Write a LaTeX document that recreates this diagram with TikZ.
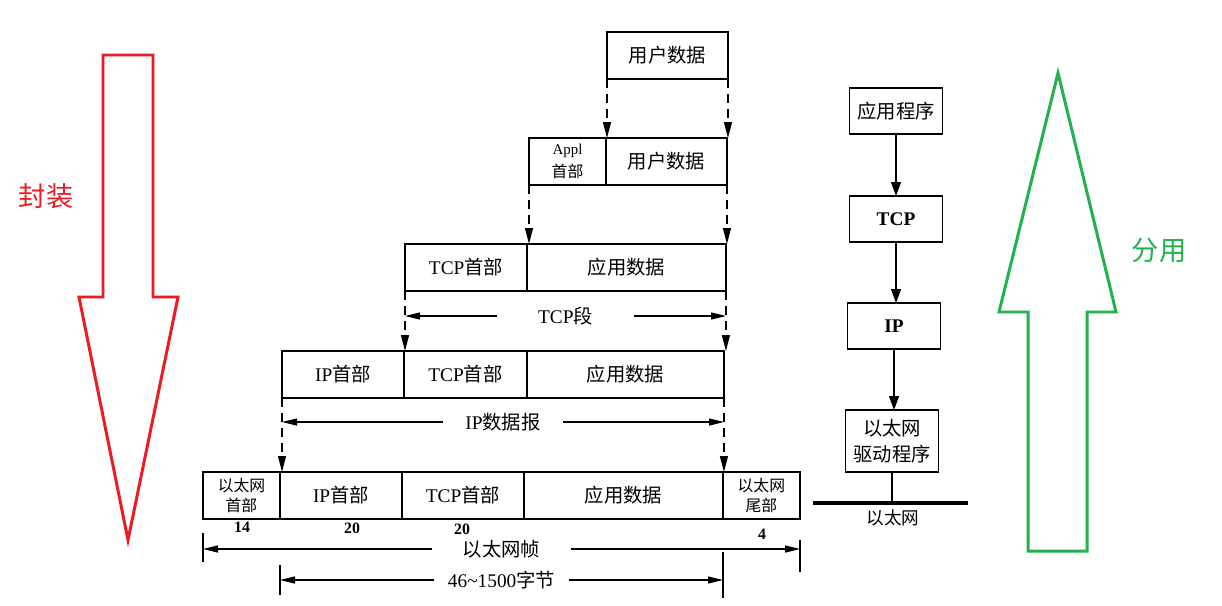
\documentclass[tikz,border=0pt]{standalone}
\usepackage{fontspec}
\setmainfont{Liberation Serif}
\newfontfamily\cjk{Noto Sans CJK SC}
\usetikzlibrary{arrows.meta,positioning}
\definecolor{encred}{RGB}{237,28,36}
\definecolor{demgreen}{RGB}{34,177,76}

\begin{document}
\begin{tikzpicture}[x=0.02cm,y=-0.02cm,
 fld/.style={draw,line width=0.7pt,inner sep=0pt,outer sep=0pt,anchor=north west,
   minimum height=0.94cm,align=center,font=\fontsize{11}{13}\selectfont},
 small/.style={font=\cjk\fontsize{9}{11}\selectfont},
 lay/.style={draw,line width=0.7pt,inner sep=0pt,outer sep=0pt,minimum width=1.86cm,
   minimum height=0.92cm,align=center,font=\fontsize{11}{14.5}\selectfont},
 drop/.style={line width=0.7pt,dash pattern=on 0.18cm off 0.12cm,-{Triangle[length=0.32cm,width=0.16cm]}},
 dim/.style={line width=0.7pt,{Triangle[length=0.3cm,width=0.14cm]}-{Triangle[length=0.3cm,width=0.14cm]}},
 gap/.style={fill=white,inner sep=0pt,minimum height=0.5cm,font=\fontsize{11}{13}\selectfont},
 flow/.style={line width=0.7pt,-{Triangle[length=0.28cm,width=0.2cm]}},
 num/.style={font=\bfseries\fontsize{9}{11}\selectfont}]
 \useasboundingbox (0,0) rectangle (1222,605);

 % encapsulation rows
 \node[fld,minimum width=2.42cm] (r1) at (607,32) {\cjk 用户数据};

 \node[fld,minimum width=1.54cm] (r2h) at (529,138) {\fontsize{8.5}{10}\selectfont Appl\\{\cjk\fontsize{9}{10}\selectfont 首部}};
 \node[fld,minimum width=2.42cm,right=0pt of r2h] (r2d) {\cjk 用户数据};

 \node[fld,minimum width=2.44cm] (r3h) at (405,244) {TCP{\cjk 首部}};
 \node[fld,minimum width=3.98cm,right=0pt of r3h] (r3d) {\cjk 应用数据};

 \node[fld,minimum width=2.44cm] (r4h) at (282,351) {IP{\cjk 首部}};
 \node[fld,minimum width=2.46cm,right=0pt of r4h] (r4t) {TCP{\cjk 首部}};
 \node[fld,minimum width=3.94cm,right=0pt of r4t] (r4d) {\cjk 应用数据};

 \node[fld,small,minimum width=1.54cm] (r5e) at (203,472) {以太网\\首部};
 \node[fld,minimum width=2.44cm,right=0pt of r5e] (r5i) {IP{\cjk 首部}};
 \node[fld,minimum width=2.44cm,right=0pt of r5i] (r5t) {TCP{\cjk 首部}};
 \node[fld,minimum width=3.98cm,right=0pt of r5t] (r5d) {\cjk 应用数据};
 \node[fld,small,minimum width=1.54cm,right=0pt of r5d] (r5f) {以太网\\尾部};

 \draw[drop] (r1.south west) -- (r1.south west |- r2d.north);
 \draw[drop] (r1.south east) -- (r1.south east |- r2d.north);
 \draw[drop] (r2h.south west) -- (r2h.south west |- r3d.north);
 \draw[drop] (r2d.south east) -- (r2d.south east |- r3d.north);
 \draw[drop] (r3h.south west) -- (r3h.south west |- r4t.north);
 \draw[drop] (r3d.south east) -- (r3d.south east |- r4d.north);
 \draw[drop] (r4h.south west) -- (r4h.south west |- r5i.north);
 \draw[drop] (r4d.south east) -- (r4d.south east |- r5d.north);

 % lengths
 \coordinate (tcpL) at (405,316);
 \coordinate (tcpR) at (726,316);
 \coordinate (ipL) at (282,422);
 \coordinate (ipR) at (724,422);
 \coordinate (frL) at (203,549);
 \coordinate (frR) at (800,549);
 \coordinate (pyL) at (280,580);
 \coordinate (pyR) at (723,580);
 \draw[dim] (tcpL) -- (tcpR) node[gap,midway,minimum width=2.74cm] (tcpseg) {TCP{\cjk 段}};
 \draw[dim] (ipL) -- (ipR) node[gap,midway,minimum width=2.4cm] (ipdg) {IP{\cjk 数据报}};
 \draw[dim] (frL) -- (frR) node[gap,midway,minimum width=2.78cm] (frame) {\cjk 以太网帧};
 \draw[dim] (pyL) -- (pyR) node[gap,midway,minimum width=2.72cm] (pay) {46\textasciitilde1500{\cjk 字节}};
 \draw[line width=0.6pt] (203,533) -- (203,562);
 \draw[line width=0.6pt] (800,540) -- (800,572);
 \draw[line width=0.6pt] (280,565) -- (280,595);
 \draw[line width=0.6pt] (723,552) -- (723,598);

 \node[num] (n14) at (242,527) {14};
 \node[num] (n20a) at (352,528) {20};
 \node[num] (n20b) at (462,529) {20};
 \node[num] (n4) at (762,534) {4};

 % protocol stack
 \node[lay] (app) at (896,111) {\cjk 应用程序};
 \node[lay] (tcp) at (896,219) {\textbf{TCP}};
 \node[lay] (ip) at (894,326) {\textbf{IP}};
 \node[lay,minimum height=1.24cm,font=\cjk\fontsize{11}{14.5}\selectfont] (drv) at (892,441) {以太网\\驱动程序};
 \draw[flow] (app) -- (tcp);
 \draw[flow] (tcp.south) -- (tcp.south |- ip.north);
 \draw[flow] (ip.south) -- (ip.south |- drv.north);
 \coordinate (e1) at (813,503);
 \coordinate (e2) at (968,503);
 \draw[line width=2.3pt] (e1) -- (e2);
 \draw[line width=0.7pt] (drv.south) -- (drv.south |- e1);
 \node[font=\cjk\fontsize{10}{12}\selectfont] (eth) at (893,518) {以太网};

 % big arrows
 \draw[encred,line width=1.7pt,line join=miter] (103,55) -- (153,55) -- (153,297) -- (178,297)
   -- (128,540) -- (79,297) -- (103,297) -- cycle;
 \node[text=encred,font=\cjk\fontsize{15.5}{18}\selectfont] (enc) at (46,196) {封装};
 \draw[demgreen,line width=1.7pt,line join=miter] (1028,551) -- (1087,551) -- (1087,312) -- (1116,312)
   -- (1058,73) -- (999,312) -- (1028,312) -- cycle;
 \node[text=demgreen,font=\cjk\fontsize{15.5}{18}\selectfont] (demux) at (1159,250) {分用};
\end{tikzpicture}
\end{document}
